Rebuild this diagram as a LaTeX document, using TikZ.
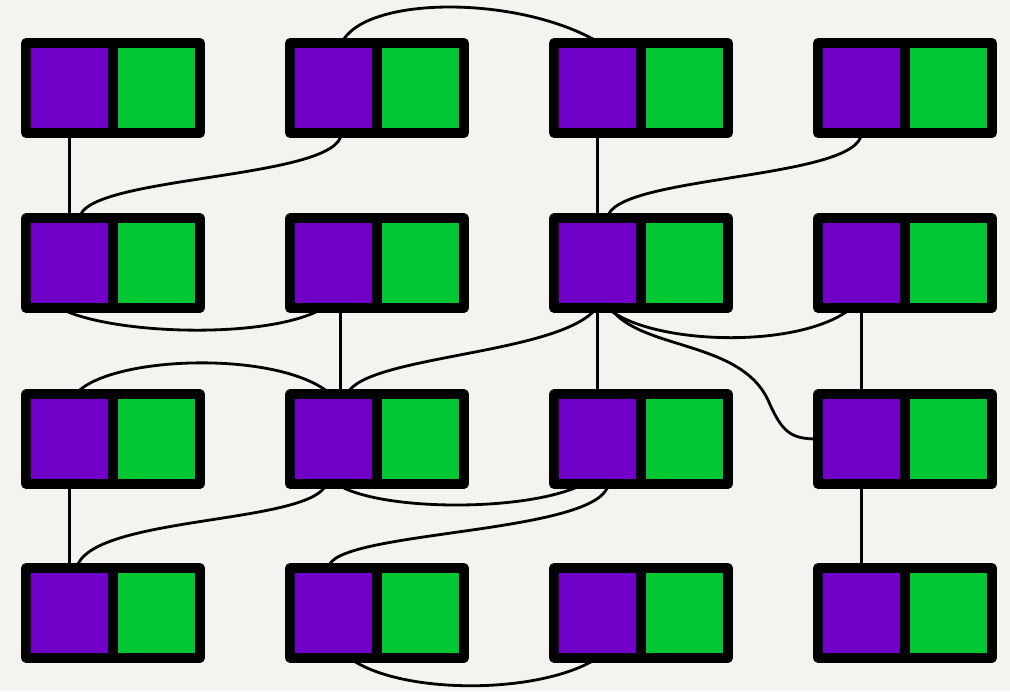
\documentclass[tikz,border=0pt]{standalone}
\usepackage{tikz}
\usetikzlibrary{positioning}
\definecolor{cellpurple}{RGB}{112,0,200}
\definecolor{cellgreen}{RGB}{0,200,50}
\definecolor{paper}{RGB}{244,243,239}

\begin{document}
\begin{tikzpicture}[
    x=0.02cm, y=-0.02cm,
    half/.style={draw, line width=5.4pt, line join=round, outer sep=0pt,
                 inner sep=0pt, minimum width=1.74cm, minimum height=1.8cm},
    ppart/.style={half, fill=cellpurple},
    gpart/.style={half, fill=cellgreen},
    wire/.style={line width=1.6pt, line cap=round},
  ]

  \useasboundingbox (0,0) rectangle (1010,691);
  \fill[paper] (0,0) rectangle (1010,691);

  %% ---- grid of cells ----------------------------------------------
  \foreach \r/\y in {1/88,2/263,3/439,4/613}
    \foreach \c/\x in {1/113,2/377,3/641,4/905} {
      \node[ppart, anchor=east] (p\r\c) at (\x,\y) {};
      \node[gpart, right=0pt of p\r\c] (g\r\c) {};
    }

  %% ---- straight links -----------------------------------------------
  \draw[wire] (p11.south) -- (p21.north);
  \draw[wire] (p13.south) -- (p23.north);
  \draw[wire] ([xshift=0.14cm]p22.south) -- ([xshift=0.14cm]p32.north);
  \draw[wire] (p23.south) -- (p33.north);
  \draw[wire] (p24.south) -- (p34.north);
  \draw[wire] (p31.south) -- (p41.north);
  \draw[wire] (p34.south) -- (p44.north);

  %% ---- curved links -------------------------------------------------
  \draw[wire] ([xshift=0.16cm]p12.north) .. controls (365,-5) and (520,-5)
    .. ([xshift=0.05cm]p13.north);
  \draw[wire] ([xshift=0.16cm]p12.south) .. controls (340,180) and (85,175)
    .. ([xshift=0.2cm]p21.north);
  \draw[wire] (p14.south) .. controls (860,180) and (612,175)
    .. ([xshift=0.2cm]p23.north);
  \draw[wire] ([xshift=-0.2cm]p21.south) .. controls (110,335) and (270,340)
    .. ([xshift=-0.2cm]p22.south);
  \draw[wire] ([xshift=-0.02cm]p23.south) .. controls (560,355) and (365,355)
    .. ([xshift=0.27cm]p32.north);
  \draw[wire] ([xshift=0.2cm]p23.south) .. controls (650,345) and (800,350)
    .. ([xshift=-0.2cm]p24.south);
  \draw[wire] ([xshift=0.26cm]p23.south) .. controls (640,350) and (740,340)
    .. (768,400) .. controls (782,432) and (790,439) .. (p34.west);
  \draw[wire] ([xshift=0.12cm]p31.north) .. controls (110,355) and (280,350)
    .. ([xshift=-0.06cm]p32.north);
  \draw[wire] ([xshift=-0.14cm]p32.south) .. controls (310,525) and (90,515)
    .. ([xshift=0.14cm]p41.north);
  \draw[wire] ([xshift=0.06cm]p32.south) .. controls (380,512) and (530,512)
    .. ([xshift=-0.28cm]p33.south);
  \draw[wire] ([xshift=0.22cm]p33.south) .. controls (600,535) and (330,530)
    .. ([xshift=-0.1cm]p42.north);
  \draw[wire] ([xshift=0.32cm]p42.south) .. controls (400,695) and (540,695)
    .. (p43.south);

\end{tikzpicture}
\end{document}
